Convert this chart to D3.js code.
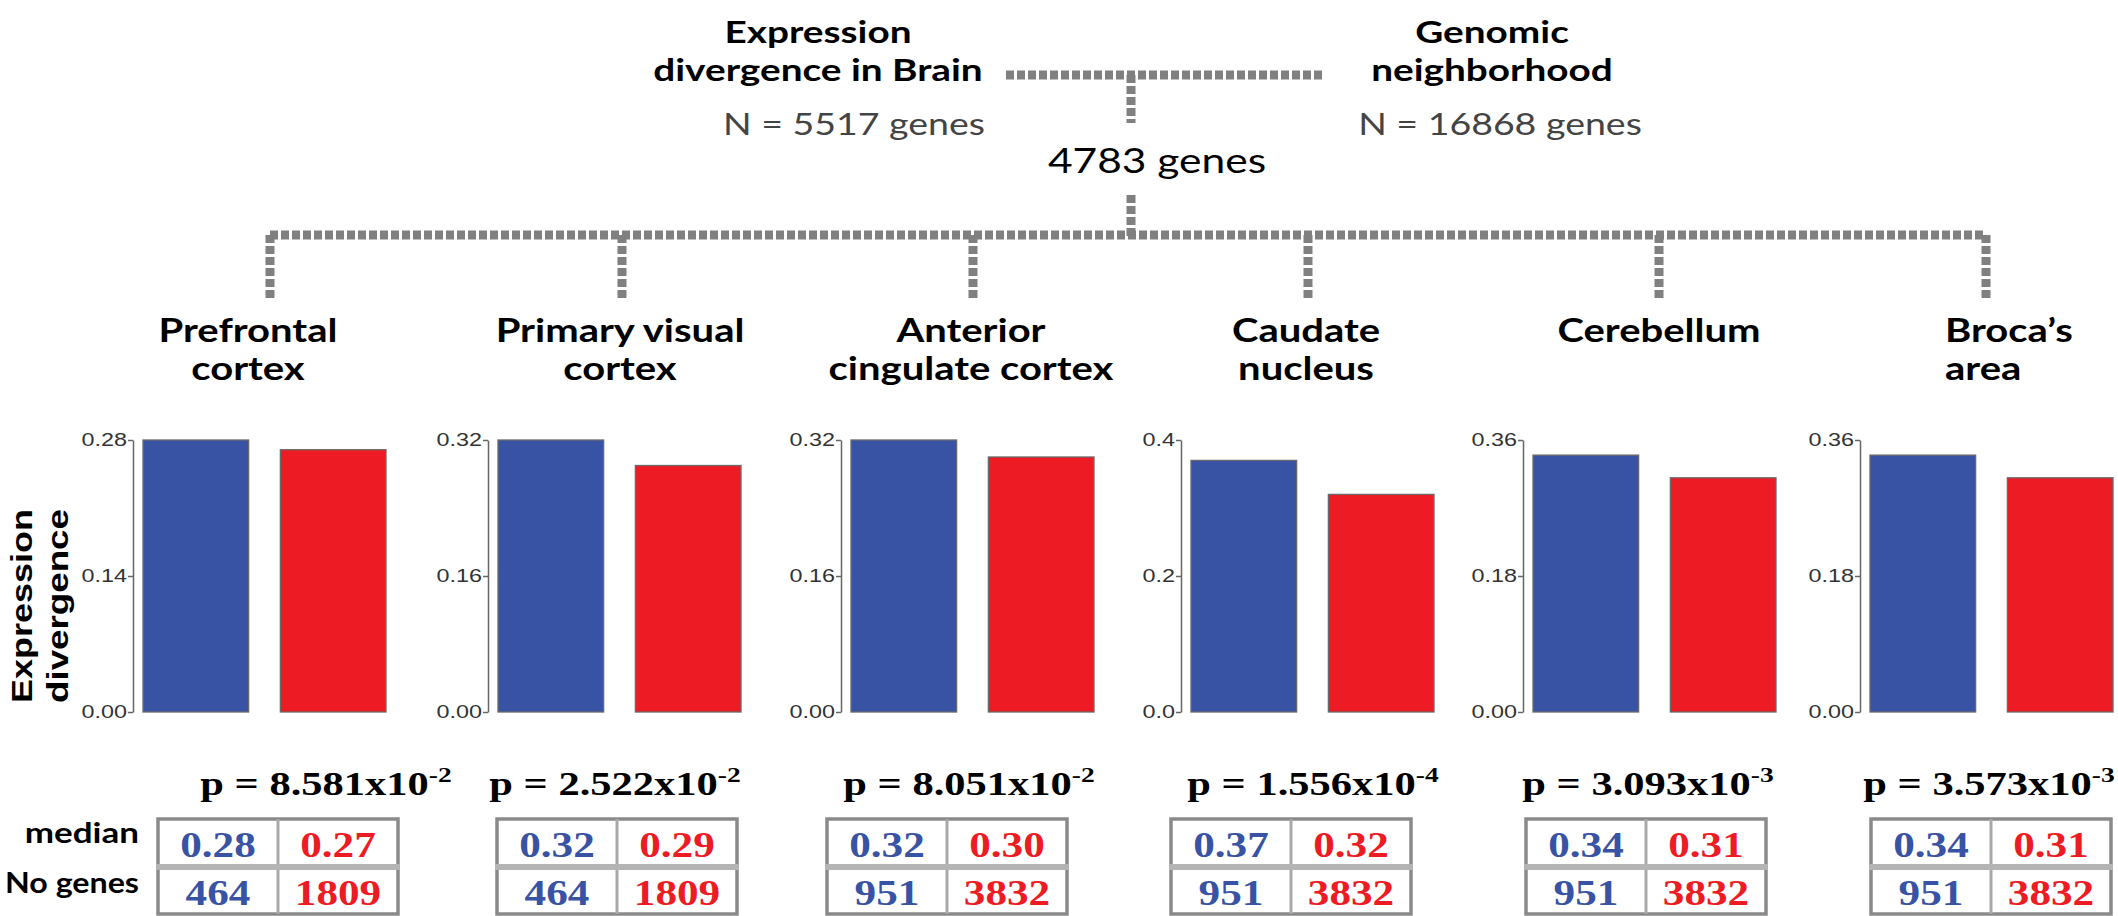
<!DOCTYPE html>
<html lang="en">
<head>
<meta charset="UTF-8">
<title>Expression divergence by brain region</title>
<script src="https://d3js.org/d3.v7.min.js"></script>
<style>
  *{padding:0; margin:0;}
  body{background:#fff;}
  .dash{fill:none; stroke:#808080; stroke-width:9; stroke-dasharray:8 3;}
  .axis path, .axis line{stroke:#666; stroke-width:1.5;}
  .axis text{font-family:"Liberation Sans", Arial, sans-serif; font-size:18px; fill:#333;}
</style>
</head>
<body>
<script>
// ---- data ----
const regions = [["Prefrontal","cortex"], ["Primary visual","cortex"], ["Anterior","cingulate cortex"],
                 ["Caudate","nucleus"], ["Cerebellum"], ["Broca\u2019s","area"]];
const yMax = [0.28, 0.32, 0.32, 0.4, 0.36, 0.36];
const tickDigits = [2, 2, 2, 1, 2, 2];
const medianBlue = [0.28, 0.32, 0.32, 0.37, 0.34, 0.34];
const medianRed = [0.27, 0.29, 0.30, 0.32, 0.31, 0.31];
const genesBlue = [464, 464, 951, 951, 951, 951];
const genesRed = [1809, 1809, 3832, 3832, 3832, 3832];
const pMant = ["8.581", "2.522", "8.051", "1.556", "3.093", "3.573"];
const pExp = [-2, -2, -2, -4, -3, -3];
const nBrain = 5517, nNeighbor = 16868, nCommon = 4783;

// ---- layout ----
const axisX = [133, 488, 841, 1181, 1523, 1860];
const dropX = [270, 622, 973, 1308, 1659, 1986];
const titleX = [248, 620, 971, 1306, 1659, 1945];
const pX = [326, 615, 969, 1313, 1648, 1989];
const tableX = [158, 497, 827, 1171, 1526, 1871];
const tableW = 240;
const blue = "#3953A4", red = "#ED1C24";
const SX = 1.25; // the figure is stretched sideways

const svg = d3.select("body").append("svg").attr("width", 2118).attr("height", 916);
svg.append("rect").attr("width", 2118).attr("height", 916).attr("fill", "#fff");

function put(g, x, y, str, o){
  return g.append("text")
    .attr("transform", "translate(" + x + "," + y + ") scale(" + (o.sx || SX) + ",1)")
    .attr("text-anchor", o.anchor || "middle")
    .style("font-family", o.font || "Lato, 'Open Sans', sans-serif")
    .style("font-size", o.size + "px")
    .style("font-weight", o.weight || "normal")
    .attr("fill", o.fill || "#000")
    .text(str);
}

// ---- tree header ----
const head = svg.append("g");
put(head, 818, 43, "Expression", {size:31, weight:"bold"});
put(head, 818, 81, "divergence in Brain", {size:31, weight:"bold"});
put(head, 1492, 43, "Genomic", {size:31, weight:"bold"});
put(head, 1492, 81, "neighborhood", {size:31, weight:"bold"});
put(head, 985, 135, "N = " + nBrain + " genes", {size:30, anchor:"end", fill:"#444"});
put(head, 1500, 135, "N = " + nNeighbor + " genes", {size:30, fill:"#444"});
put(head, 1157, 173, nCommon + " genes", {size:34});

const lines = svg.append("g");
lines.append("path").attr("class", "dash").attr("d", "M1006,75H1324");
lines.append("path").attr("class", "dash").attr("d", "M1131,75V123");
lines.append("path").attr("class", "dash").attr("d", "M1131,195V236");
lines.append("path").attr("class", "dash").attr("d", "M" + d3.min(dropX) + ",235H" + d3.max(dropX));
lines.selectAll(".drop").data(dropX).enter().append("path")
  .attr("class", "dash drop")
  .attr("d", d => "M" + d + ",235V300");

// ---- y title ----
const yt = svg.append("g").attr("transform", "translate(0,606) rotate(-90)");
[["Expression", 32], ["divergence", 68]].forEach(function(t){
  yt.append("text").attr("x", 0).attr("y", t[1]).attr("text-anchor", "middle")
    .attr("textLength", 194).attr("lengthAdjust", "spacingAndGlyphs")
    .style("font-family", "'Liberation Sans', Arial, sans-serif")
    .style("font-size", "30px").style("font-weight", "bold").text(t[0]);
});

// ---- panels ----
const yTop = 440, yBot = 712;
regions.forEach(function(name, i){
  const g = svg.append("g");

  // title
  name.forEach(function(line, k){
    put(g, titleX[i], 342 + 38 * k, line, {size:32, weight:"bold", anchor: i === 5 ? "start" : "middle"});
  });

  const y = d3.scaleLinear().domain([0, yMax[i]]).range([yBot, yTop]);
  const x = d3.scaleBand().domain(["blue", "red"])
    .range([axisX[i] + 10, axisX[i] + 253]).paddingInner(0.231).paddingOuter(0);
  const bars = [{k:"blue", v:medianBlue[i], c:blue}, {k:"red", v:medianRed[i], c:red}];

  g.selectAll("rect.bar").data(bars).enter().append("rect")
    .attr("class", "bar")
    .attr("x", d => x(d.k)).attr("width", x.bandwidth())
    .attr("y", d => y(d.v)).attr("height", d => y(0) - y(d.v))
    .attr("fill", d => d.c).attr("stroke", "#6a6a6a").attr("stroke-width", 1.3);

  const ax = g.append("g").attr("class", "axis").attr("transform", "translate(" + axisX[i] + ",0)")
    .call(d3.axisLeft(y).tickValues([0, yMax[i] / 2, yMax[i]]).tickSize(5).tickSizeOuter(0)
      .tickPadding(1).tickFormat(d3.format("." + tickDigits[i] + "f")));
  ax.selectAll("text").attr("transform", "scale(1.3,1)").attr("x", -6 / 1.3);

  // p value
  const pt = put(g, pX[i], 795, "", {size:34, weight:"bold", font:"'Liberation Serif', 'DejaVu Serif', serif"});
  pt.append("tspan").text("p = " + pMant[i] + "x10");
  pt.append("tspan").attr("dy", -13).style("font-size", "22px").text(String(pExp[i]));

  // table
  const tx = tableX[i], tw = tableW, top = 819, mid = 867, bot = 914;
  const cx = [tx + tw / 4, tx + 3 * tw / 4];
  const t = g.append("g");
  t.append("rect").attr("x", tx).attr("y", top).attr("width", tw).attr("height", bot - top)
    .attr("fill", "#fff").attr("stroke", "#8a8a8a").attr("stroke-width", 3.5);
  t.append("line").attr("x1", tx + tw / 2).attr("x2", tx + tw / 2).attr("y1", top).attr("y2", bot)
    .attr("stroke", "#a9a9a9").attr("stroke-width", 3);
  t.append("line").attr("x1", tx - 2).attr("x2", tx + tw + 2).attr("y1", mid).attr("y2", mid)
    .attr("stroke", "#b4b4b4").attr("stroke-width", 6);
  const cellFont = {size:36, weight:"bold", font:"'Liberation Serif', 'DejaVu Serif', serif", sx:1.2};
  put(t, cx[0], 857, medianBlue[i].toFixed(2), Object.assign({fill:blue}, cellFont));
  put(t, cx[1], 857, medianRed[i].toFixed(2), Object.assign({fill:red}, cellFont));
  put(t, cx[0], 905, genesBlue[i], Object.assign({fill:blue}, cellFont));
  put(t, cx[1], 905, genesRed[i], Object.assign({fill:red}, cellFont));
});

put(svg, 139, 843, "median", {size:28, weight:"bold", anchor:"end"});
put(svg, 139, 893, "No genes", {size:28, weight:"bold", anchor:"end", sx:1.15});
</script>
</body>
</html>
